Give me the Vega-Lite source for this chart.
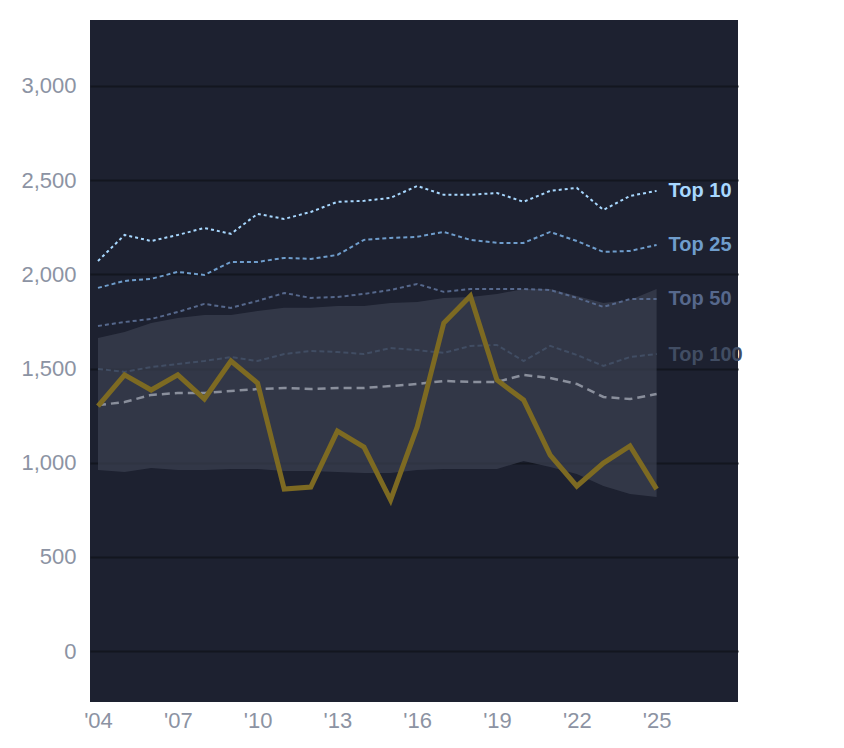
{
"$schema":"https://vega.github.io/schema/vega-lite/v6.json",
"width":648,"height":682,
"autosize":{"type":"none"},
"padding":{"left":90,"top":20,"right":106,"bottom":46},
"background":"white",
"config":{"view":{"fill":"#1d2130","stroke":null},
"axis":{"labelColor":"#8c93a3","labelFontSize":22,"labelFont":"Liberation Sans","domain":false,"ticks":false,"title":null}},
"datasets":{"d":[
{"y":2004,"g":1300,"t10":2071,"t25":1928,"t50":1726,"t100":1498,"med":1306,"hi":1662,"lo":961},
{"y":2005,"g":1466,"t10":2209,"t25":1965,"t50":1747,"t100":1482,"med":1322,"hi":1694,"lo":951},
{"y":2006,"g":1386,"t10":2177,"t25":1976,"t50":1763,"t100":1508,"med":1360,"hi":1742,"lo":972},
{"y":2007,"g":1466,"t10":2209,"t25":2013,"t50":1800,"t100":1524,"med":1370,"hi":1768,"lo":961},
{"y":2008,"g":1338,"t10":2246,"t25":1997,"t50":1843,"t100":1540,"med":1370,"hi":1784,"lo":961},
{"y":2009,"g":1540,"t10":2215,"t25":2066,"t50":1822,"t100":1561,"med":1381,"hi":1784,"lo":967},
{"y":2010,"g":1423,"t10":2321,"t25":2066,"t50":1859,"t100":1540,"med":1391,"hi":1806,"lo":967},
{"y":2011,"g":860,"t10":2294,"t25":2087,"t50":1901,"t100":1577,"med":1397,"hi":1822,"lo":956},
{"y":2012,"g":871,"t10":2331,"t25":2082,"t50":1875,"t100":1593,"med":1391,"hi":1822,"lo":956},
{"y":2013,"g":1168,"t10":2385,"t25":2103,"t50":1880,"t100":1588,"med":1397,"hi":1832,"lo":951},
{"y":2014,"g":1083,"t10":2390,"t25":2183,"t50":1896,"t100":1577,"med":1397,"hi":1832,"lo":945},
{"y":2015,"g":802,"t10":2406,"t25":2193,"t50":1917,"t100":1609,"med":1407,"hi":1848,"lo":945},
{"y":2016,"g":1190,"t10":2469,"t25":2199,"t50":1949,"t100":1598,"med":1418,"hi":1853,"lo":961},
{"y":2017,"g":1742,"t10":2422,"t25":2225,"t50":1907,"t100":1583,"med":1434,"hi":1875,"lo":967},
{"y":2018,"g":1885,"t10":2422,"t25":2183,"t50":1922,"t100":1620,"med":1429,"hi":1880,"lo":967},
{"y":2019,"g":1439,"t10":2432,"t25":2167,"t50":1922,"t100":1625,"med":1429,"hi":1896,"lo":967},
{"y":2020,"g":1333,"t10":2385,"t25":2167,"t50":1922,"t100":1540,"med":1466,"hi":1922,"lo":1009},
{"y":2021,"g":1041,"t10":2443,"t25":2225,"t50":1917,"t100":1620,"med":1450,"hi":1922,"lo":977},
{"y":2022,"g":876,"t10":2459,"t25":2177,"t50":1875,"t100":1572,"med":1418,"hi":1885,"lo":940},
{"y":2023,"g":998,"t10":2342,"t25":2119,"t50":1827,"t100":1514,"med":1349,"hi":1848,"lo":876},
{"y":2024,"g":1089,"t10":2416,"t25":2124,"t50":1869,"t100":1561,"med":1338,"hi":1864,"lo":834},
{"y":2025,"g":860,"t10":2443,"t25":2156,"t50":1869,"t100":1577,"med":1365,"hi":1922,"lo":818}
],
"lab":[
{"x":2025.45,"v":2443,"t":"Top 10","c":"#a8d8ff"},
{"x":2025.45,"v":2156,"t":"Top 25","c":"#6f9dcc"},
{"x":2025.45,"v":1869,"t":"Top 50","c":"#56688c"},
{"x":2025.45,"v":1572,"t":"Top 100","c":"#414d63"}
]},
"layer":[
{"data":{"name":"d"},"mark":{"type":"area","color":"#3a3f4f","opacity":0.75},
 "encoding":{"x":{"field":"y","type":"quantitative","scale":{"domain":[2003.7,2028.06],"nice":false,"zero":false},
   "axis":{"values":[2004,2007,2010,2013,2016,2019,2022,2025],"labelExpr":"\"'\" + slice(format(datum.value,'d'),2)","grid":false,"labelPadding":8}},
  "y":{"field":"lo","type":"quantitative","scale":{"domain":[-270,3350],"nice":false,"zero":false},
   "axis":{"values":[0,500,1000,1500,2000,2500,3000],"gridColor":"#13161f","gridWidth":2,"labelPadding":14}},
  "y2":{"field":"hi"}}},
{"data":{"name":"d"},"mark":{"type":"line","color":"#a8d8ff","strokeWidth":2,"strokeDash":[3,3]},"encoding":{"x":{"field":"y","type":"quantitative"},"y":{"field":"t10","type":"quantitative"}}},
{"data":{"name":"d"},"mark":{"type":"line","color":"#6f9dcc","strokeWidth":2,"strokeDash":[4,3]},"encoding":{"x":{"field":"y","type":"quantitative"},"y":{"field":"t25","type":"quantitative"}}},
{"data":{"name":"d"},"mark":{"type":"line","color":"#56688c","strokeWidth":2,"strokeDash":[4,3]},"encoding":{"x":{"field":"y","type":"quantitative"},"y":{"field":"t50","type":"quantitative"}}},
{"data":{"name":"d"},"mark":{"type":"line","color":"#414d63","strokeWidth":2,"strokeDash":[5,3]},"encoding":{"x":{"field":"y","type":"quantitative"},"y":{"field":"t100","type":"quantitative"}}},
{"data":{"name":"d"},"mark":{"type":"line","color":"#8a8f9c","strokeWidth":2.5,"strokeDash":[8,5]},"encoding":{"x":{"field":"y","type":"quantitative"},"y":{"field":"med","type":"quantitative"}}},
{"data":{"name":"d"},"mark":{"type":"line","color":"#7d6a22","strokeWidth":5},"encoding":{"x":{"field":"y","type":"quantitative"},"y":{"field":"g","type":"quantitative"}}},
{"data":{"name":"lab"},"mark":{"type":"text","align":"left","baseline":"middle","fontSize":20,"fontWeight":"bold","font":"Liberation Sans"},
 "encoding":{"x":{"field":"x","type":"quantitative"},"y":{"field":"v","type":"quantitative"},"text":{"field":"t"},"color":{"field":"c","type":"nominal","scale":null}}}
]}
